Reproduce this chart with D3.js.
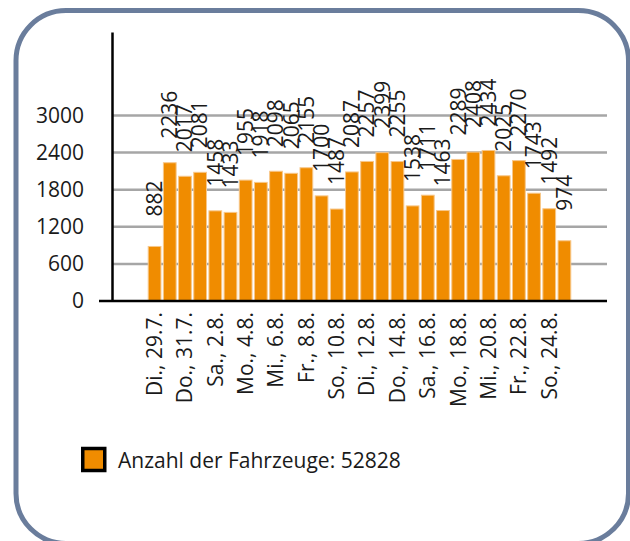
<!DOCTYPE html>
<html>
<head>
<meta charset="utf-8">
<script src="https://cdn.jsdelivr.net/npm/d3@7"></script>
<style>
  body { margin: 0; background: #fff; }
  svg text { font-family: "Open Sans", "Noto Sans", sans-serif; fill: #1a1a1a; }
</style>
</head>
<body>
<div class="chart"></div>
<script>
var width = 630,
    height = 541;

// one bar per day
var days = ["Di., 29.7.", "Mi., 30.7.", "Do., 31.7.", "Fr., 1.8.", "Sa., 2.8.", "So., 3.8.", "Mo., 4.8.",
    "Di., 5.8.", "Mi., 6.8.", "Do., 7.8.", "Fr., 8.8.", "Sa., 9.8.", "So., 10.8.", "Mo., 11.8.",
    "Di., 12.8.", "Mi., 13.8.", "Do., 14.8.", "Fr., 15.8.", "Sa., 16.8.", "So., 17.8.", "Mo., 18.8.",
    "Di., 19.8.", "Mi., 20.8.", "Do., 21.8.", "Fr., 22.8.", "Sa., 23.8.", "So., 24.8.", "Mo., 25.8."];

var counts = [882, 2236, 2017, 2081, 1458, 1433, 1955, 1918, 2098, 2065, 2155, 1700, 1487, 2087,
    2257, 2399, 2255, 1538, 1711, 1463, 2289, 2408, 2434, 2025, 2270, 1743, 1492, 974];

var yTicks = [0, 600, 1200, 1800, 2400, 3000];
var legendLabel = "Anzahl der Fahrzeuge: 52828";

var fontSize = "21px";

var svg = d3.select(".chart").append("svg")
    .attr("width", width)
    .attr("height", height);

// frame
svg.append("rect")
    .attr("x", 16)
    .attr("y", 10.5)
    .attr("width", 612.5)
    .attr("height", 533)
    .attr("rx", 50)
    .attr("fill", "none")
    .attr("stroke", "#6a7d9c")
    .attr("stroke-width", 5);

var x = d3.scaleBand()
    .domain(days)
    .range([147, 572])
    .paddingInner(0.16)
    .paddingOuter(0.08);

var y = d3.scaleLinear()
    .domain([0, 4350])
    .range([301, 32]);

var plot = svg.append("g");

// grid
plot.selectAll(".grid")
    .data(yTicks.filter(function(d) { return d > 0; }))
    .enter().append("line")
    .attr("class", "grid")
    .attr("x1", 112)
    .attr("x2", 607)
    .attr("y1", function(d) { return y(d); })
    .attr("y2", function(d) { return y(d); })
    .attr("stroke", "#a6a6a6")
    .attr("stroke-width", 2.5);

plot.selectAll(".bar")
    .data(counts)
    .enter().append("rect")
    .attr("class", "bar")
    .attr("x", function(d, i) { return x(days[i]); })
    .attr("y", function(d) { return y(d); })
    .attr("width", x.bandwidth())
    .attr("height", function(d) { return y(0) - y(d); })
    .attr("fill", "#f08c00")
    .attr("stroke", "#f7c78a")
    .attr("stroke-width", 1);

// value labels, rotated
plot.selectAll(".value")
    .data(counts)
    .enter().append("text")
    .attr("class", "value")
    .attr("transform", function(d, i) {
        return "translate(" + (x(days[i]) + x.bandwidth() / 2) + "," + (y(d) - 48) + ") rotate(-90)";
    })
    .attr("dy", "0.35em")
    .style("text-anchor", "middle")
    .style("font-size", fontSize)
    .text(function(d) { return d; });

// y axis
var yAxis = svg.append("g")
    .attr("transform", "translate(112,0)")
    .call(d3.axisLeft(y).tickValues(yTicks).tickFormat(d3.format("d")).tickSize(0).tickPadding(28));
yAxis.select(".domain").attr("stroke", "#000").attr("stroke-width", 2.5);
yAxis.selectAll("text").style("font-size", fontSize).attr("fill", "#1a1a1a");

// zero line
svg.append("line")
    .attr("x1", 99)
    .attr("x2", 607)
    .attr("y1", y(0))
    .attr("y2", y(0))
    .attr("stroke", "#000")
    .attr("stroke-width", 2.5);

// x labels, every second day
var xAxis = svg.append("g")
    .attr("transform", "translate(0," + y(0) + ")")
    .call(d3.axisBottom(x).tickValues(days.filter(function(d, i) { return i % 2 === 0; })).tickSize(0));
xAxis.select(".domain").remove();
xAxis.selectAll("text")
    .attr("transform", "rotate(-90)")
    .attr("x", -11)
    .attr("y", 0)
    .attr("dy", "0.35em")
    .style("text-anchor", "end")
    .style("font-size", fontSize)
    .attr("fill", "#1a1a1a");

// legend
svg.append("rect")
    .attr("x", 82.75)
    .attr("y", 448.5)
    .attr("width", 22)
    .attr("height", 22)
    .attr("fill", "#f08c00")
    .attr("stroke", "#000")
    .attr("stroke-width", 3.5);

svg.append("text")
    .attr("x", 118)
    .attr("y", 468)
    .style("font-size", fontSize)
    .text(legendLabel);
</script>
</body>
</html>
